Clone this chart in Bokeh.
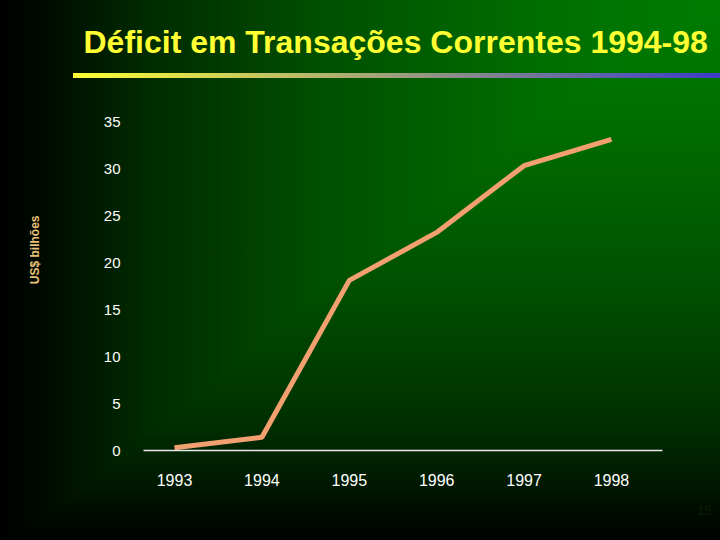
from bokeh.plotting import figure
from bokeh.models import Range1d, FixedTicker, Title
from bokeh.embed import file_html
from bokeh.resources import INLINE

# ---- data ----
years = [1993, 1994, 1995, 1996, 1997, 1998]
deficit = [0.3, 1.4, 18.1, 23.2, 30.3, 33.1]
y_ticks = [0, 5, 10, 15, 20, 25, 30, 35]
title_text = "Déficit em Transações Correntes 1994-98"
y_label_text = "US$ bilhões"
page_number = "15"

FONT = "Liberation Sans"

bg = (
    "linear-gradient(to right, #ffff33, #3c3cc8) 73px 73px / 647px 5px no-repeat, "
    "linear-gradient(to right, #000000 0%, #000800 5%, #002a00 20%, #005000 45%, #006e00 75%, #007c00 100%), "
    "linear-gradient(to bottom, #007c00 0%, #007000 20%, #005400 50%, #003400 75%, #001c00 88%, #000000 100%)"
)

p = figure(
    width=720, height=540,
    output_backend="svg", toolbar_location=None,
    x_range=Range1d(1992.645, 1998.584), y_range=Range1d(0, 35),
    min_border_left=143, min_border_right=58,
    min_border_top=121, min_border_bottom=90,
)
p.title_location = None
p.margin = (0, 0, 0, 0)
p.styles = {"background": bg, "background-blend-mode": "normal, darken, normal"}

p.border_fill_color = None
p.background_fill_color = None
p.outline_line_color = None
p.grid.visible = False

# spacer between frame and title (keeps the title up near the top)
top_gap = Title(text=" ", text_font=FONT, text_font_size="10px", standoff=44)
p.add_layout(top_gap, "above")

main_title = Title(
    text=title_text, align="left", offset=-60, standoff=10,
    vertical_align="bottom",
    text_color="#ffff33", text_font=FONT, text_font_size="32px",
    text_font_style="bold",
)
p.add_layout(main_title, "above")

# x axis
xa = p.xaxis[0]
xa.ticker = FixedTicker(ticks=years)
xa.axis_line_color = "#e8e8e8"
xa.axis_line_width = 1.5
xa.major_tick_line_color = None
xa.minor_tick_line_color = None
xa.major_tick_out = 0
xa.major_tick_in = 0
xa.major_label_standoff = 23
xa.major_label_text_color = "white"
xa.major_label_text_font = FONT
xa.major_label_text_font_size = "16px"

# y axis
ya = p.yaxis[0]
ya.ticker = FixedTicker(ticks=y_ticks)
ya.axis_line_color = None
ya.major_tick_line_color = None
ya.minor_tick_line_color = None
ya.major_tick_out = 0
ya.major_tick_in = 0
ya.major_label_standoff = 23
ya.major_label_text_color = "white"
ya.major_label_text_font = FONT
ya.major_label_text_font_size = "15px"

p.line(years, deficit, line_color="#f2a070", line_width=5)

left_gap = Title(text=" ", text_font=FONT, text_font_size="10px", standoff=41)
p.add_layout(left_gap, "left")

ylab = Title(
    text=y_label_text, align="right", offset=94, standoff=10,
    vertical_align="bottom",
    text_color="#e8c078", text_font=FONT, text_font_size="12px",
    text_font_style="bold",
)
p.add_layout(ylab, "left")

pnum = Title(
    text=page_number, align="right", offset=-49, standoff=34,
    vertical_align="top",
    text_color="#0c1c0c", text_font=FONT, text_font_size="13px",
    text_font_style="normal",
)
p.add_layout(pnum, "below")

open("out.html", "w").write(file_html(p, INLINE))
